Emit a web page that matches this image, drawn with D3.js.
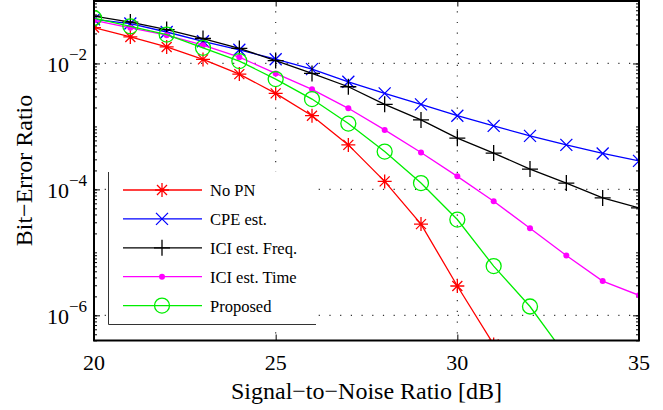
<!DOCTYPE html>
<html><head><meta charset="utf-8">
<script src="https://cdn.jsdelivr.net/npm/d3@7"></script>
<style>body{margin:0;background:#fff}svg{display:block}</style>
</head><body><svg id="c" width="663" height="410" font-family="'Liberation Serif', 'Times New Roman', Times, 'DejaVu Serif', serif"></svg>
<script>
const snr = [20,21,22,23,24,25,26,27,28,29,30,31,32,33,34,35];
const noPN   = [3.72e-2,2.64e-2,1.83e-2,1.16e-2,6.78e-3,3.35e-3,1.48e-3,5.09e-4,1.34e-4,2.81e-5,2.92e-6,3.44e-7];
const cpeEst = [5.02e-2,4.30e-2,3.16e-2,2.25e-2,1.65e-2,1.17e-2,8.13e-3,5.12e-3,3.35e-3,2.24e-3,1.48e-3,1.02e-3,7.08e-4,5.09e-4,3.72e-4,2.84e-4];
const iciFreq = [5.66e-2,4.55e-2,3.45e-2,2.49e-2,1.73e-2,1.11e-2,6.95e-3,4.27e-3,2.24e-3,1.27e-3,6.50e-4,3.77e-4,2.10e-4,1.26e-4,7.31e-5,5.08e-5];
const iciTime = [4.84e-2,3.68e-2,2.81e-2,1.95e-2,1.26e-2,6.95e-3,3.88e-3,1.94e-3,8.81e-4,3.85e-4,1.61e-4,6.46e-5,2.42e-5,8.93e-6,3.50e-6,2.08e-6];
const proposed = [5.27e-2,3.89e-2,2.88e-2,1.77e-2,1.09e-2,5.65e-3,2.72e-3,1.11e-3,3.99e-4,1.26e-4,3.32e-5,6.05e-6,1.38e-6,2.24e-7];
const seriesNames = ["No PN","CPE est.","ICI est. Freq.","ICI est. Time","Proposed"];
const seriesColors = ["#ff0000","#0000ff","#000000","#ff00ff","#00ee00"];
const seriesMarkers = ["star","x","plus","dot","circle"];
const xTicks = [20,25,30,35];
const yTickExps = [-6,-4,-2];
const xLabel = "Signal\u2212to\u2212Noise Ratio [dB]";
const yLabel = "Bit\u2212Error Ratio";

const allSeries = [noPN,cpeEst,iciFreq,iciTime,proposed];
const svg = d3.select("#c");
const L=94,R=639,T=0.5,B=340.5;
const x = d3.scaleLinear().domain([20,35]).range([L,R]);
const y = d3.scaleLog().domain([Math.pow(10,-6.4),0.1]).range([B,T]);

svg.append("defs").append("clipPath").attr("id","clip").append("rect")
  .attr("x",L).attr("y",T).attr("width",R-L).attr("height",B-T);

// grid
const g = svg.append("g");
g.selectAll(".gx").data(xTicks.filter(d=>d>20&&d<35)).join("line")
  .attr("x1",d=>x(d)).attr("x2",d=>x(d)).attr("y1",T).attr("y2",B)
  .attr("stroke","#333").attr("stroke-width",1.2).attr("stroke-dasharray","1.2,9.5");
g.selectAll(".gy").data(yTickExps).join("line")
  .attr("x1",L).attr("x2",R).attr("y1",d=>y(Math.pow(10,d))).attr("y2",d=>y(Math.pow(10,d)))
  .attr("stroke","#333").attr("stroke-width",1.2).attr("stroke-dasharray","1.2,9.5");

// ticks via axes
const ax = svg.append("g");
const xAxB = d3.axisBottom(x).tickValues(xTicks).tickSize(-6).tickFormat(()=>"");
const xAxT = d3.axisTop(x).tickValues(xTicks).tickSize(-6).tickFormat(()=>"");
ax.append("g").attr("transform",`translate(0,${B})`).call(xAxB);
ax.append("g").attr("transform",`translate(0,${T})`).call(xAxT);
const minorVals = [];
for(let e=-7;e<=-1;e++) for(let m=1;m<=9;m++){const v=m*Math.pow(10,e); if(v>=y.domain()[0]&&v<=0.1) minorVals.push(v);}
const majorVals = yTickExps.map(e=>Math.pow(10,e));
ax.append("g").attr("transform",`translate(${L},0)`).call(d3.axisLeft(y).tickValues(minorVals).tickSize(-3).tickFormat(()=>""));
ax.append("g").attr("transform",`translate(${R},0)`).call(d3.axisRight(y).tickValues(minorVals).tickSize(-3).tickFormat(()=>""));
ax.append("g").attr("transform",`translate(${L},0)`).call(d3.axisLeft(y).tickValues(majorVals).tickSize(-6).tickFormat(()=>""));
ax.append("g").attr("transform",`translate(${R},0)`).call(d3.axisRight(y).tickValues(majorVals).tickSize(-6).tickFormat(()=>""));
ax.selectAll(".domain").remove();
ax.selectAll("line").attr("stroke","#000").attr("stroke-width",1);

// series
const plot = svg.append("g").attr("clip-path","url(#clip)");
function drawMarker(sel,type,color){
  if(type==="star"){
    sel.append("path").attr("d","M-7,0H7M0,-7V7M-5,-5L5,5M-5,5L5,-5").attr("stroke",color).attr("stroke-width",1.3).attr("fill","none");
  } else if(type==="x"){
    sel.append("path").attr("d","M-6,-6L6,6M-6,6L6,-6").attr("stroke",color).attr("stroke-width",1.3).attr("fill","none");
  } else if(type==="plus"){
    sel.append("path").attr("d","M-8,0H8M0,-8V8").attr("stroke",color).attr("stroke-width",1.3).attr("fill","none");
  } else if(type==="dot"){
    sel.append("circle").attr("r",3).attr("fill",color);
  } else if(type==="circle"){
    sel.append("circle").attr("r",7.5).attr("fill","none").attr("stroke",color).attr("stroke-width",1.3);
  }
}
const line = d3.line().x((d,i)=>x(snr[i])).y(d=>y(d));
allSeries.forEach((vals,k)=>{
  plot.append("path").attr("d",line(vals)).attr("fill","none").attr("stroke",seriesColors[k]).attr("stroke-width",1.3);
  vals.forEach((v,i)=>{
    const m = plot.append("g").attr("transform",`translate(${x(snr[i])},${y(v)})`);
    drawMarker(m,seriesMarkers[k],seriesColors[k]);
  });
});

// frame
svg.append("rect").attr("x",L).attr("y",T+0.5).attr("width",R-L).attr("height",B-T-0.5)
  .attr("fill","none").attr("stroke","#000").attr("stroke-width",2);

// legend
const lg = svg.append("g");
lg.append("rect").attr("x",108).attr("y",172).attr("width",208).attr("height",152).attr("fill","#fff");
lg.append("path").attr("d","M108.5,172V324.5H316").attr("stroke","#333").attr("stroke-width",1).attr("fill","none");
seriesNames.forEach((n,k)=>{
  const yy = 190 + k*28.9;
  lg.append("line").attr("x1",123).attr("x2",202).attr("y1",yy).attr("y2",yy).attr("stroke",seriesColors[k]).attr("stroke-width",1.3);
  const m = lg.append("g").attr("transform",`translate(162,${yy})`);
  drawMarker(m,seriesMarkers[k],seriesColors[k]);
  lg.append("text").attr("x",210).attr("y",yy+6).attr("font-size",16.5).text(n);
});

// tick labels
xTicks.forEach(t=>{
  svg.append("text").attr("x",x(t)).attr("y",370).attr("text-anchor","middle").attr("font-size",22).text(t);
});
yTickExps.forEach(e=>{
  const t = svg.append("text").attr("x",87).attr("y",y(Math.pow(10,e))+9).attr("text-anchor","end").attr("font-size",22);
  t.append("tspan").text("10");
  t.append("tspan").attr("dy",-12).attr("font-size",17).text("\u2212"+(-e));
});
svg.append("text").attr("x",x(27.5)).attr("y",399).attr("text-anchor","middle").attr("font-size",24).text(xLabel);
svg.append("text").attr("transform",`translate(32,${(T+B)/2}) rotate(-90)`).attr("text-anchor","middle").attr("font-size",24).text(yLabel);
</script></body></html>
